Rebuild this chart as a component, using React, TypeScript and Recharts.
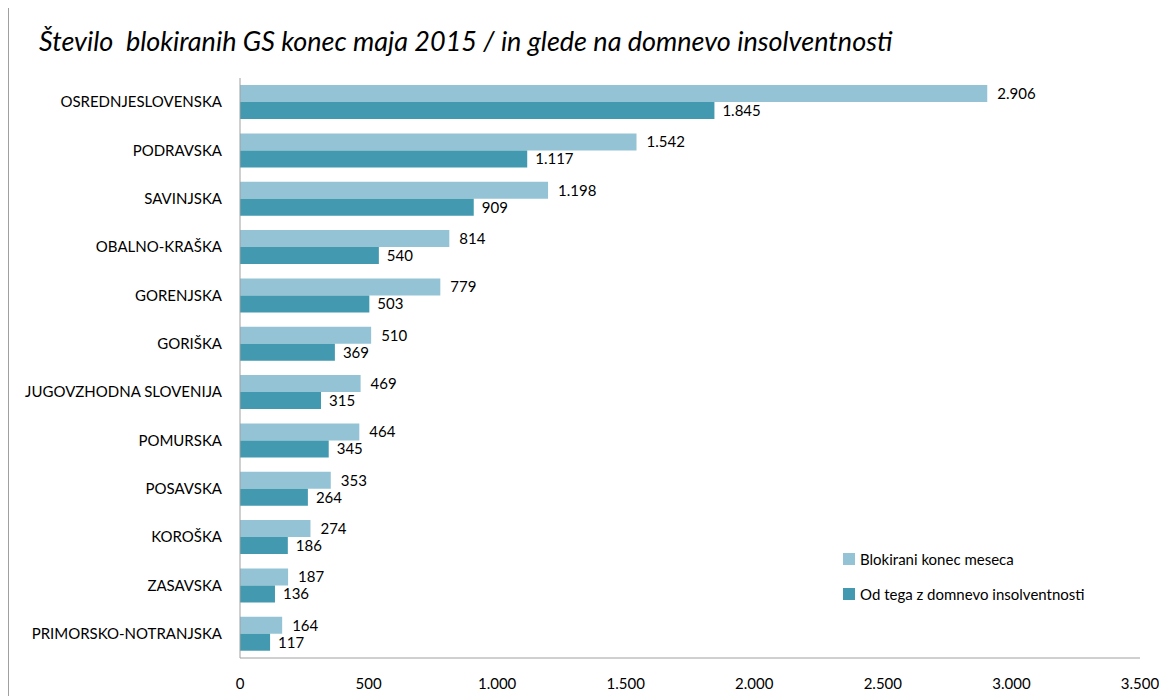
import React from 'react';
import { BarChart, Bar, XAxis, YAxis, LabelList } from 'recharts';

const regions = [
  'OSREDNJESLOVENSKA',
  'PODRAVSKA',
  'SAVINJSKA',
  'OBALNO-KRAŠKA',
  'GORENJSKA',
  'GORIŠKA',
  'JUGOVZHODNA  SLOVENIJA',
  'POMURSKA',
  'POSAVSKA ',
  'KOROŠKA',
  'ZASAVSKA',
  'PRIMORSKO-NOTRANJSKA',
];
const blokirani = [2906, 1542, 1198, 814, 779, 510, 469, 464, 353, 274, 187, 164];
const insolventni = [1845, 1117, 909, 540, 503, 369, 315, 345, 264, 186, 136, 117];
const xTicks = [0, 500, 1000, 1500, 2000, 2500, 3000, 3500];

const seriesNames = ['Blokirani konec meseca', 'Od tega z domnevo insolventnosti'];
const colors = ['#93C3D4', '#4299B0'];

const data = regions.map((r, i) => ({ region: r, a: blokirani[i], b: insolventni[i] }));

const fmt = (v: any) => {
  const n = Number(v);
  return n.toString().replace(/\B(?=(\d{3})+(?!\d))/g, '.');
};

const FONT = 'Lato, "Open Sans", sans-serif';

export default function App() {
  return (
    <div
      style={{
        position: 'relative',
        width: 1150,
        height: 689,
        marginTop: -2,
        borderTop: '1px solid #a0a0a0',
        borderLeft: '1px solid #a0a0a0',
        background: '#fff',
        fontFamily: FONT,
      }}
    >
      <div
        style={{
          position: 'absolute',
          left: 30,
          top: 17,
          fontSize: 27,
          fontStyle: 'italic',
          fontFamily: FONT,
          color: '#000',
          whiteSpace: 'pre',
        }}
      >
        {'Število  blokiranih GS konec maja 2015 / in glede na domnevo insolventnosti'}
      </div>
      <div style={{ position: 'absolute', left: 0, top: 0 }}>
        <BarChart
          width={1150}
          height={689}
          data={data}
          layout="vertical"
          margin={{ top: 71, right: 19, bottom: 0, left: 0 }}
          barCategoryGap="14.6%"
          barGap={0}
        >
          <XAxis
            type="number"
            domain={[0, 3500]}
            ticks={xTicks}
            tickFormatter={fmt}
            axisLine={{ stroke: '#a0a0a0' }}
            tickLine={false}
            tickSize={0}
            tickMargin={20}
            height={38}
            tick={{ fill: '#000', fontSize: 15, fontFamily: FONT }}
            interval={0}
          />
          <YAxis
            type="category"
            dataKey="region"
            width={231}
            axisLine={{ stroke: '#a0a0a0' }}
            tickLine={false}
            tickSize={0}
            tickMargin={18}
            tick={{ fill: '#000', fontSize: 15, fontFamily: FONT }}
            interval={0}
          />
          <Bar dataKey="a" name={seriesNames[0]} fill={colors[0]} isAnimationActive={false}>
            <LabelList dataKey="a" position="right" offset={10} formatter={fmt} fill="#000" fontSize={15} fontFamily={FONT} />
          </Bar>
          <Bar dataKey="b" name={seriesNames[1]} fill={colors[1]} isAnimationActive={false}>
            <LabelList dataKey="b" position="right" offset={8} formatter={fmt} fill="#000" fontSize={15} fontFamily={FONT} />
          </Bar>
        </BarChart>
      </div>
      <div
        style={{
          position: 'absolute',
          left: 834,
          top: 534,
          fontFamily: FONT,
          fontSize: 15,
          color: '#000',
        }}
      >
        {seriesNames.map((n, i) => (
          <div key={n} style={{ display: 'flex', alignItems: 'center', height: 35 }}>
            <span style={{ display: 'inline-block', width: 12, height: 12, background: colors[i], marginRight: 5 }} />
            <span>{n}</span>
          </div>
        ))}
      </div>
    </div>
  );
}
